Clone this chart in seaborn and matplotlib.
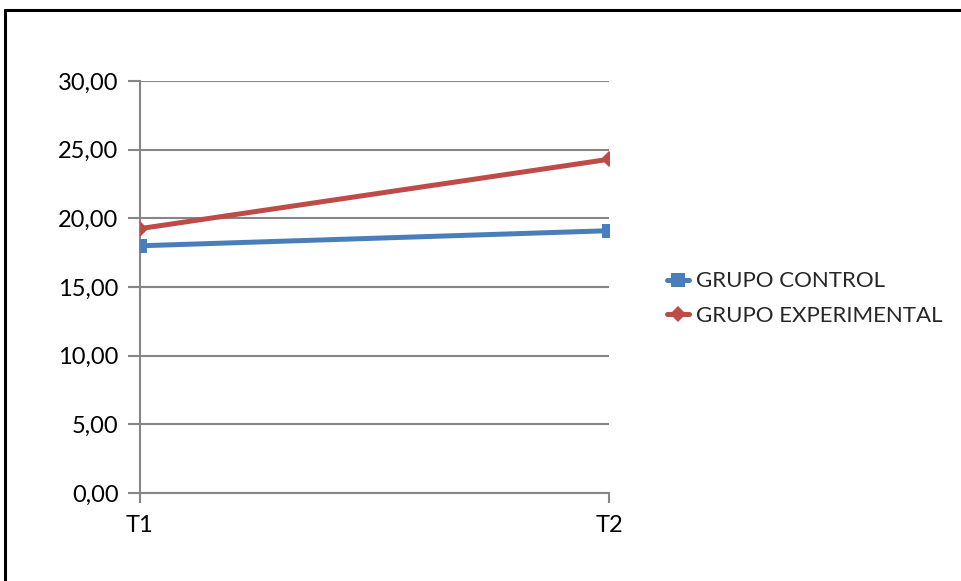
import matplotlib
matplotlib.use("Agg")
import matplotlib.pyplot as plt
from matplotlib.lines import Line2D
import seaborn as sns
import pandas as pd

# Mean scores per group at each measurement time
times = ["T1", "T2"]
grupo_control = [18.0, 19.1]
grupo_experimental = [19.25, 24.3]
series_names = ["GRUPO CONTROL", "GRUPO EXPERIMENTAL"]
y_ticks = [0, 5, 10, 15, 20, 25, 30]

colors = {"GRUPO CONTROL": "#4A7EBB", "GRUPO EXPERIMENTAL": "#BE4B48"}
markers = {"GRUPO CONTROL": "s", "GRUPO EXPERIMENTAL": "D"}
marker_sizes = {"s": 10.5, "D": 8.5}

df = pd.DataFrame({
    "x": list(range(len(times))) * 2,
    "valor": grupo_control + grupo_experimental,
    "grupo": [series_names[0]] * len(times) + [series_names[1]] * len(times),
})

sns.set_theme(style="white")
plt.rcParams["font.family"] = ["Lato", "DejaVu Sans"]

fig = plt.figure(figsize=(9.61, 5.81), dpi=100)
ax = fig.add_axes([140 / 961, (581 - 493) / 581, 469 / 961, 412 / 581])

sns.lineplot(data=df, x="x", y="valor", hue="grupo", style="grupo",
             palette=colors, markers=markers, dashes=False,
             linewidth=3.6, markeredgewidth=0,
             legend=False, ax=ax, zorder=3)
for ln in ax.get_lines():
    m = ln.get_marker()
    if m in marker_sizes:
        ln.set_markersize(marker_sizes[m])

grid_c = "#868686"
ax.set_xlim(0, 1)
ax.set_ylim(0, 30)
ax.set_yticks(y_ticks)
ax.set_yticklabels([f"{v:.2f}".replace(".", ",") for v in y_ticks], fontsize=17)
ax.set_xticks(range(len(times)))
ax.set_xticklabels(times, fontsize=17)
ax.yaxis.grid(True, color=grid_c, linewidth=1.5)
ax.set_axisbelow(True)
ax.set_xlabel("")
ax.set_ylabel("")
for side in ["top", "right"]:
    ax.spines[side].set_visible(False)
for side in ["left", "bottom"]:
    ax.spines[side].set_color(grid_c)
    ax.spines[side].set_linewidth(1.5)
ax.tick_params(axis="y", length=9, width=1.5, color=grid_c, pad=6.5,
               labelcolor="black", left=True)
ax.tick_params(axis="x", length=7.5, width=1.5, color=grid_c, pad=8,
               labelcolor="black", bottom=True)
for lbl in ax.get_xticklabels() + ax.get_yticklabels():
    lbl.set_clip_on(False)

handles = [Line2D([], [], color=colors[n], marker=markers[n], linewidth=3.6,
                  markersize=marker_sizes[markers[n]], markeredgewidth=0)
           for n in series_names]
fig.legend(handles, series_names, loc="center left",
           bbox_to_anchor=(667 / 961, 1 - 298.5 / 581), frameon=False,
           fontsize=16, handlelength=1.0, handletextpad=0.3,
           labelspacing=0.65, borderpad=0, borderaxespad=0)

# outer chart frame (top and left edges visible)
fig.add_artist(Line2D([5 / 961, 5 / 961], [0, 1 - 9.5 / 581],
                      transform=fig.transFigure, color="black", linewidth=2.2))
fig.add_artist(Line2D([5 / 961, 1], [1 - 9.5 / 581, 1 - 9.5 / 581],
                      transform=fig.transFigure, color="black", linewidth=2.2))

fig.savefig("out.png", dpi=100)
